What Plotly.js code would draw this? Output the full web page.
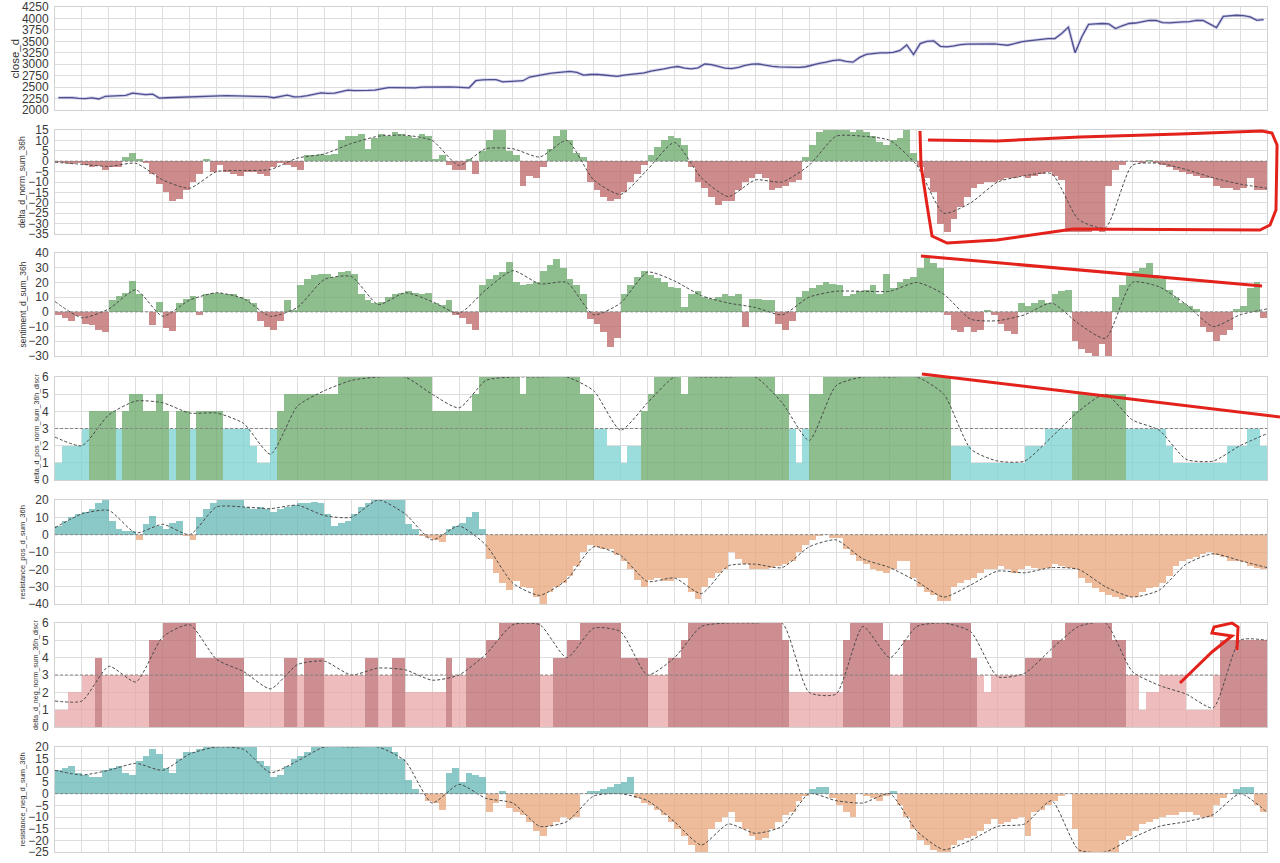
<!DOCTYPE html>
<html><head><meta charset="utf-8">
<script src="https://cdn.plot.ly/plotly-3.0.1.min.js"></script>
<style>html,body{margin:0;padding:0;background:#fff}#chart{width:1280px;height:863px}</style>
</head><body><div id="chart"></div>
<script>
// ---------- data (4 samples per grid interval, 45 intervals) ----------
const close_d = [
2270,2275,2272,2255, 2250,2265,2240,2300, 2308,2312,2318,2370, 2345,2335,2348,2260, 2268,2275,2282,2290,
2295,2300,2305,2305, 2310,2312,2308,2300, 2292,2290,2292,2290, 2268,2300,2325,2285, 2290,2312,2340,2375,
2365,2368,2400,2435, 2425,2420,2430,2436, 2470,2490,2490,2488, 2490,2485,2500,2505, 2505,2500,2505,2500,
2495,2485,2640,2660, 2662,2663,2615,2625, 2628,2640,2720,2750, 2780,2800,2815,2830, 2842,2820,2760,2775,
2780,2765,2750,2735, 2760,2780,2795,2810, 2850,2870,2900,2930, 2950,2915,2900,2920, 3005,2990,2950,2915,
2905,2930,2975,3000, 3005,2975,2955,2940, 2935,2920,2930,2945, 2990,3020,3045,3080, 3095,3060,3045,3150,
3215,3240,3250,3250, 3260,3300,3420,3210, 3450,3500,3510,3390, 3380,3400,3430,3440, 3445,3450,3452,3445,
3430,3415,3450,3490, 3510,3530,3540,3560, 3560,3670,3810,3250, 3600,3870,3880,3890, 3880,3780,3840,3890,
3900,3930,3960,3955, 3910,3905,3920,3925, 3930,3960,3955,3880, 3800,4045,4065,4070, 4060,4035,3960,3975];

const delta_d_norm_sum_36h = [
-0.5,-1,-1.5,-1, -2,-3,-2.5,-4, -3,-3,2,4, 1,-1,-6,-11, -15,-19,-18,-14,
-10,-6,1,-5, -2,-5,-6,-7, -5,-5,-6,-7, -3,-1,-2,-3, -4,3,3,3.5,
3,3.5,10,12, 12,13,6,11, 13,12,14,13, 12,11,13,12, 1,3,-2,-4,
-4,1,-6,5, 10,16,16,5, 3,-12,-7,-8, -3,6,12,16, 10,4,2,-10,
-14,-17,-19,-18, -15,-10,-6,-2, 3,7,10,12, 11,8,-3,-10, -13,-17,-21,-19,
-19,-14,-10,-8, -6,-8,-14,-13, -12,-10,-9,2, 8,14,16,16, 16,16,14,16,
14,12,9,8, 10,11,15,4, -3,-8,-15,-30, -34,-28,-22,-17, -13,-11,-10,-10,
-9,-8,-8,-7, -8,-7,-6,-5, -7,-9,-34,-34, -34,-34,-33,-34, -12,-4,-2,0,
-0.5,-1,0.5,-1, -2,-3,-4,-5, -6,-7,-8,-8, -12,-13,-13,-14, -13,-8,-14,-14];
const delta_d_norm_avg = [-0.5,-1.5,-2.5,-1,-9,-13,-5,-4.5,-4,1.5,3.5,8.5,12,12.5,10,-2,6,6,2,10,-9,-16,-4,9,-8,-17,-9,-10,-2,12,12,10,-2,-25,-20,-10,-7,-6,-28,-32,-2,-1,-4,-8,-11,-13];

const sentiment_d_sum_36h = [
-2,-4,-6,-3, -8,-9,-12,-14, 8,11,13,21, 12,0,-9,7, -11,-13,6,9,
11,-2,12,13, 13,12,12,10, 9,6,-6,-10, -12,-6,8,1, 18,22,25,26,
26,24,27,28, 26,12,8,6, 7,10,12,13, 14,13,12,13, 6,5,8,-2,
-4,-8,-12,18, 22,25,27,34, 20,18,19,20, 28,32,36,30, 22,18,12,-5,
-8,-14,-24,-18, 12,18,24,28, 25,23,20,17, 16,3,12,14, 10,9,10,12,
11,12,-10,9, 9,8,8,-8, -12,-6,10,14, 16,18,20,19, 18,11,12,14,
15,18,12,26, 16,20,22,24, 30,38,33,30, -2,-12,-14,-10, -14,-12,1,-2,
-8,-13,-15,6, 4,6,8,6, 12,14,15,-20, -25,-28,-30,-22, -30,10,18,25,
28,30,33,25, 22,15,10,6, 4,2,-10,-14, -20,-16,-12,2, 4,16,20,-4];
const sentiment_avg = [7,-4,2,15,-3,8,13,9,-3,3,22,24,5,13,7,-1,15,28,19,20,-2,6,27,21,11,6,3,-2,10,14,14,14,20,12,-5,-6,-2,6,-8,-18,20,17,5,-10,-2,2];

const delta_d_pos_discr = [
1,2,2,2, 3,4,4,4, 4,3,4,5, 5,4,4,5, 4,3,4,4,
3,4,4,4, 4,3,3,3, 3,2,1,1, 3,4,5,5, 5,5,5,5,
5,5,6,6, 6,6,6,6, 6,6,6,6, 6,6,6,6, 4,4,4,4,
4,4,5,6, 6,6,6,6, 6,5,6,6, 6,6,6,6, 6,6,5,5,
3,3,2,2, 1,2,2,4, 5,6,6,6, 6,5,6,6, 6,6,6,6,
6,6,6,6, 6,6,6,5, 5,3,1,3, 5,5,6,6, 6,6,6,6,
6,6,6,6, 6,6,6,6, 6,6,6,6, 6,2,2,2, 1,1,1,1,
1,1,1,1, 2,2,2,3, 3,3,3,4, 5,5,5,5, 5,5,5,3,
3,3,3,3, 3,2,1,1, 1,1,1,1, 1,1,2,2, 2,3,3,2];
const delta_d_pos_avg = [2.5,2,3.8,4.6,4.5,3.9,3.9,3.3,1.5,4.3,5.2,5.8,6,6,5,4.2,5.8,6,6,6,5.2,2.9,4.5,6,6,6,6,4.5,2.3,5.5,6,6,6,5,1.8,1.1,1.1,2.5,4,5,3.5,2.9,1.2,1.1,2,2.7];

const resistance_pos_d_sum_36h = [
5,8,10,12, 13,15,18,22, 8,3,2,2, -3,6,11,5, 3,7,8,-1,
-3,10,15,18, 22,22,22,20, 16,15,16,15, 13,15,16,17, 18,18,19,18,
12,5,7,8, 12,16,18,22, 22,22,22,22, 6,3,-1,-2, -3,-4,3,5,
7,10,13,3, -14,-22,-28,-32, -27,-30,-31,-36, -40,-33,-30,-28, -24,-18,-10,-6,
-7,-8,-8,-12, -15,-20,-26,-30, -26,-25,-27,-27, -25,-25,-33,-37, -30,-25,-22,-20,
-10,-14,-17,-20, -20,-20,-19,-18, -17,-15,-10,-6, -3,-1,0,-2, -2,-8,-12,-15,
-17,-20,-21,-22, -20,-15,-15,-25, -30,-33,-35,-38, -38,-30,-28,-26, -25,-22,-20,-20,
-18,-20,-22,-20, -18,-19,-20,-19, -17,-18,-19,-20, -25,-28,-31,-33, -35,-36,-37,-36,
-36,-33,-31,-30, -28,-24,-18,-15, -14,-13,-11,-10, -12,-13,-15,-15, -16,-18,-19,-20];
const resistance_pos_avg = [4,12,14,1,6,0,16,16,15,17,11,10,20,12,-3,5,-6,-28,-35,-26,-7,-12,-27,-25,-34,-18,-17,-19,-7,-3,-14,-19,-27,-36,-29,-21,-22,-19,-20,-30,-36,-32,-17,-11,-15,-19];

const delta_d_neg_discr = [
1,1,2,2, 3,3,4,3, 3,3,3,3, 3,3,5,5, 6,6,6,6,
6,4,4,4, 4,4,4,4, 2,2,2,2, 2,2,4,4, 3,4,4,4,
3,3,3,3, 3,3,4,4, 3,3,4,4, 2,2,2,2, 2,2,4,3,
3,4,4,4, 5,5,6,6, 6,6,6,6, 3,3,4,4, 5,5,6,6,
6,6,6,6, 4,4,4,4, 3,3,3,4, 4,5,6,6, 6,6,6,6,
6,6,6,6, 6,6,6,6, 5,2,2,2, 2,2,2,2, 2,5,6,6,
6,6,6,5, 3,3,5,6, 6,6,6,6, 6,6,6,6, 4,3,2,3,
3,3,3,3, 4,4,4,4, 5,5,6,6, 6,6,6,6, 6,5,5,3,
3,1,2,2, 3,3,3,3, 1,1,1,1, 3,5,5,5, 5,5,5,5];
const delta_d_neg_avg = [1.5,1.5,3.5,2.6,5.2,5.9,3.9,3.2,2.2,3.6,3.8,3,3.4,3.3,2.7,3,4.2,5.9,5.9,4,5.7,5.5,3,4,5.8,6,6,6,2,1.9,5.8,4,5.8,6,5.5,2.9,3.1,4.5,5.8,6,3.2,2.4,1.9,1.1,5,5];

const resistance_neg_d_sum_36h = [
10,11,12,9, 8,7,7,10, 11,12,9,8, 14,16,19,17, 11,9,15,18,
18,19,20,22, 22,22,22,22, 22,22,14,12, 7,8,12,15, 16,18,22,22,
22,22,22,22, 22,22,22,22, 22,21,18,15, 6,2,0,-3, -4,-7,9,11,
5,9,8,7, -8,-4,1,-6, -8,-9,-12,-16, -18,-14,-12,-10, -11,-10,0,1,
1,2,3,4, 5,7,-2,-4, -5,-7,-9,-12, -15,-18,-22,-25, -26,-15,-12,-10,
-8,-12,-15,-18, -20,-19,-15,-12, -9,-8,-3,-1, 2,3,3,-2, -5,-8,-10,0,
-1,-2,-3,-1, 1,-5,-10,-15, -20,-22,-24,-26, -25,-22,-20,-19, -18,-16,-13,-11,
-13,-12,-11,-10, -18,-8,-7,-5, -3,-1,0,-15, -26,-26,-26,-26, -26,-26,-20,-18,
-16,-13,-12,-11, -10,-9,-9,-8, -8,-9,-10,-10, -5,-2,0,2, 3,3,-5,-8];
const resistance_neg_avg = [10,8,10,13,10,17,20,19,9,14,20,20,20,14,-4,4,-2,-4,-14,-12,-1,0,-3,-12,-22,-13,-17,-14,0,-3,-4,0,-16,-24,-20,-14,-13,-3,-24,-25,-19,-14,-12,-9,0,-8];

// ---------- layout helpers ----------
const W = 1280, H = 863, ML = 55, MR = 13, MT = 7, MB = 11;
const PH = H - MT - MB, PW = W - ML - MR;
const XMAX = 45;
const N = close_d.length;
const xBar = close_d.map((_, i) => (i + 0.5) * XMAX / N);
const xAvg = delta_d_norm_avg.map((_, i) => i * XMAX / (delta_d_norm_avg.length - 1));
const barW = XMAX / N;
const fy = py => (H - MB - py) / PH;
const fx = px => (px - ML) / PW;

const GREEN = 'rgba(104,168,104,0.75)', RED = 'rgba(190,100,100,0.75)';
const CYAN = 'rgba(120,210,208,0.75)', TEAL = 'rgba(100,182,182,0.75)', ORANGE = 'rgba(232,166,120,0.75)';
const DRED = 'rgba(188,104,110,0.75)', PINK = 'rgba(232,162,162,0.72)';

const panels = [
  {title:'close_d', tsize:11.5, tx:14, range:[2000,4250], dtick:250, px:[7,110]},
  {title:'delta_d_norm_sum_36h', tsize:8.5, tx:22, range:[-35,15], dtick:5, px:[130,234], vals:delta_d_norm_sum_36h, avg:delta_d_norm_avg, ref:0, hi:GREEN, lo:RED, thr:0, strict:false},
  {title:'sentiment_d_sum_36h', tsize:8.5, tx:22, range:[-30,40], dtick:10, px:[253,356], vals:sentiment_d_sum_36h, avg:sentiment_avg, ref:0, hi:GREEN, lo:RED, thr:0, strict:false},
  {title:'delta_d_pos_norm_sum_36h_discr', tsize:7, tx:36, range:[0,6], dtick:1, px:[377,480], vals:delta_d_pos_discr, avg:delta_d_pos_avg, ref:3, hi:GREEN, lo:CYAN, thr:3, strict:true},
  {title:'resistance_pos_d_sum_36h', tsize:7.5, tx:22, range:[-40,20], dtick:10, px:[500,604], vals:resistance_pos_d_sum_36h, avg:resistance_pos_avg, ref:0, hi:TEAL, lo:ORANGE, thr:0, strict:false},
  {title:'delta_d_neg_norm_sum_36h_discr', tsize:7, tx:36, range:[0,6], dtick:1, px:[623,727], vals:delta_d_neg_discr, avg:delta_d_neg_avg, ref:3, hi:DRED, lo:PINK, thr:3, strict:true},
  {title:'resistance_neg_d_sum_36h', tsize:7.5, tx:22, range:[-25,20], dtick:5, px:[747,852], vals:resistance_neg_d_sum_36h, avg:resistance_neg_avg, ref:0, hi:TEAL, lo:ORANGE, thr:0, strict:false}
];

const FONT = 'Liberation Sans, Arial, sans-serif';
const traces = [];
const layout = {
  width: W, height: H, margin:{l:ML, r:MR, t:MT, b:MB},
  paper_bgcolor:'#fff', plot_bgcolor:'#fff', showlegend:false,
  font:{family:FONT, color:'#333'}, shapes:[], annotations:[], bargap:0
};

panels.forEach((p, idx) => {
  const n = idx + 1;
  const xa = n === 1 ? 'x' : 'x' + n, ya = n === 1 ? 'y' : 'y' + n;
  const xk = n === 1 ? 'xaxis' : 'xaxis' + n, yk = n === 1 ? 'yaxis' : 'yaxis' + n;
  layout[xk] = {domain:[0,1], range:[0,XMAX], dtick:1, tick0:0, showticklabels:false, ticks:'',
    showgrid:true, gridcolor:'#dddddd', gridwidth:1, zeroline:false, showline:true, linecolor:'#d2d2d2', mirror:true, anchor:ya, fixedrange:true};
  layout[yk] = {domain:[fy(p.px[1]), fy(p.px[0])], range:p.range, dtick:p.dtick, tick0:p.range[0], ticks:'',
    showgrid:true, gridcolor:'#dddddd', gridwidth:1, zeroline:false, showline:true, linecolor:'#d2d2d2', mirror:true,
    anchor:xa, tickfont:{size:12, color:'#3a3a3a', family:FONT}, ticklabelstandoff:3};
  layout.annotations.push({text:p.title, xref:'paper', yref:'paper', x:fx(p.tx), y:fy((p.px[0] + p.px[1]) / 2),
    xanchor:'center', yanchor:'middle', textangle:-90, showarrow:false,
    font:{size:p.tsize, color:'#333', family:FONT}});
  if (n === 1) {
    traces.push({x:xBar, y:close_d, type:'scatter', mode:'lines', xaxis:xa, yaxis:ya,
      line:{color:'rgba(140,140,210,0.4)', width:3}, hoverinfo:'skip'});
    traces.push({x:xBar, y:close_d, type:'scatter', mode:'lines', xaxis:xa, yaxis:ya,
      line:{color:'#4f4f8e', width:1.3}});
    return;
  }
  const colors = p.vals.map(v => (p.strict ? v > p.thr : v >= p.thr) ? p.hi : p.lo);
  traces.push({x:xBar, y:p.vals, type:'bar', width:barW, xaxis:xa, yaxis:ya,
    marker:{color:colors, line:{width:0}}});
  traces.push({x:xAvg, y:p.avg, type:'scatter', mode:'lines', xaxis:xa, yaxis:ya,
    line:{color:'#4a4a4a', width:1, dash:'3px,2px', shape:'spline', smoothing:0.6}});
  layout.shapes.push({type:'line', xref:'paper', x0:0, x1:1, yref:ya, y0:p.ref, y1:p.ref,
    line:{color:'#858585', width:1, dash:'3px,2px'}});
});

// hand-drawn red marks on the reference picture (paper coordinates)
const strokes = [
  [[928,140],[997,141],[1080,137],[1180,134],[1262,131],[1272,133],[1277,145],[1276,210],[1270,225],[1260,230],[1073,229],[997,240],[947,243],[932,236],[927,205],[921,165],[920,131]],
  [[921,256],[1262,286]],
  [[922,374],[1280,417]],
  [[1180,683],[1212,652],[1232,636],[1212,633],[1214,627],[1232,623],[1238,627],[1237,650]]
];
strokes.forEach(s => {
  layout.shapes.push({type:'path', xref:'paper', yref:'paper', layer:'above',
    path:'M' + s.map(p => fx(p[0]).toFixed(4) + ',' + fy(p[1]).toFixed(4)).join(' L'),
    line:{color:'#e3221c', width:3}});
});

Plotly.newPlot('chart', traces, layout, {displayModeBar:false, staticPlot:true});
</script>
</body></html>
